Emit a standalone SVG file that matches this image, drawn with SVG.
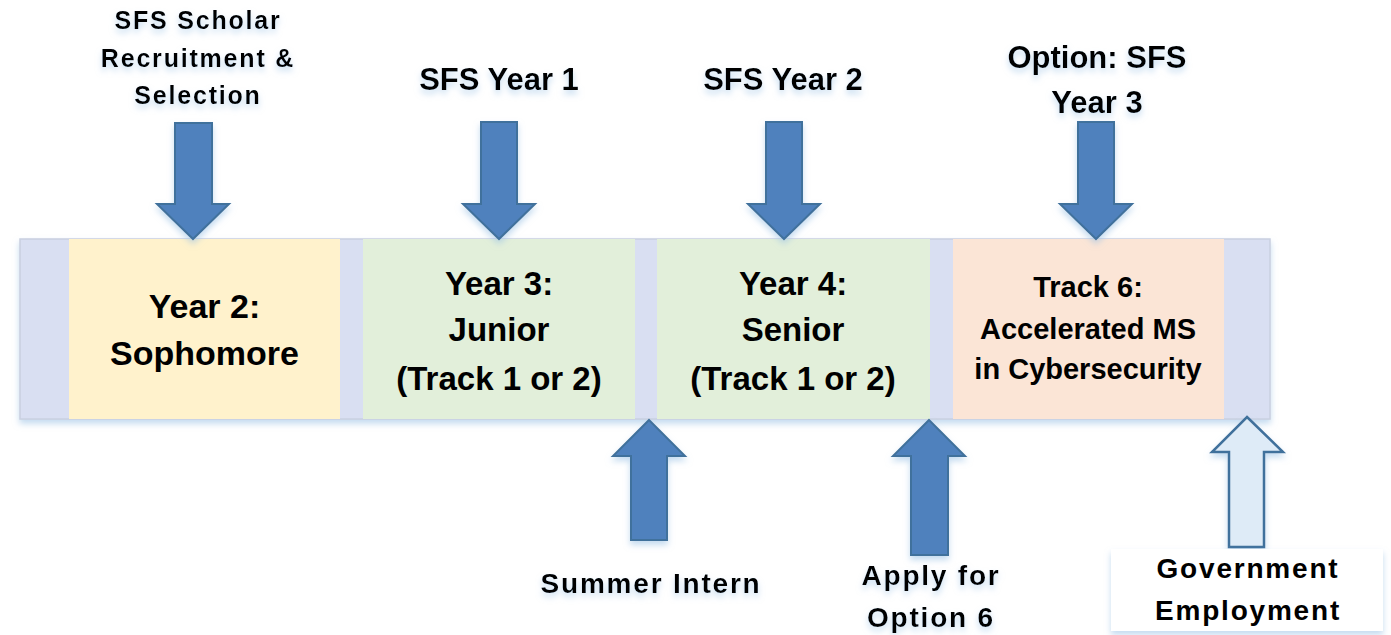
<svg xmlns="http://www.w3.org/2000/svg" width="1391" height="635" viewBox="0 0 1391 635">
<style>
.t{font-family:"Liberation Sans",Arial,sans-serif;font-weight:bold;fill:#000;text-anchor:middle}
.sp{letter-spacing:1.8px}
.arr{fill:#4f81bd;stroke:#41719c;stroke-width:2;stroke-linejoin:miter}
.arr2{fill:#deebf7;stroke:#41719c;stroke-width:2.5}
.gap{fill:#d9dff2}
</style>
<defs>
<filter id="glow" x="-30%" y="-30%" width="160%" height="160%">
<feGaussianBlur in="SourceAlpha" stdDeviation="3" result="b"/>
<feOffset in="b" dy="4" result="o"/>
<feFlood flood-color="#9dc3e6" flood-opacity="0.6"/>
<feComposite in2="o" operator="in" result="s"/>
<feMerge><feMergeNode in="s"/><feMergeNode in="SourceGraphic"/></feMerge>
</filter>
</defs>
<g id="band" filter="url(#glow)">
<rect x="20" y="239" width="1250" height="180" class="gap" stroke="#c9d0e0" stroke-width="1.5"/>
</g>
<g id="node-year2">
<rect x="69" y="239" width="271" height="180" fill="#fff2cc"/>
<text class="t" font-size="34" x="204.5" y="318">Year 2:</text>
<text class="t" font-size="34" x="204.5" y="365">Sophomore</text>
</g>
<g id="node-year3">
<rect x="363" y="239" width="272" height="180" fill="#e2efda"/>
<text class="t" font-size="33" x="499" y="295">Year 3:</text>
<text class="t" font-size="33" x="499" y="341">Junior</text>
<text class="t" font-size="33" x="499" y="390">(Track 1 or 2)</text>
</g>
<g id="node-year4">
<rect x="657" y="239" width="273" height="180" fill="#e2efda"/>
<text class="t" font-size="33" x="793" y="295">Year 4:</text>
<text class="t" font-size="33" x="793" y="341">Senior</text>
<text class="t" font-size="33" x="793" y="390">(Track 1 or 2)</text>
</g>
<g id="node-track6">
<rect x="953" y="239" width="271" height="180" fill="#fbe5d6"/>
<text class="t" font-size="29" x="1088" y="297">Track 6:</text>
<text class="t" font-size="29" x="1088" y="339">Accelerated MS</text>
<text class="t" font-size="29" x="1088" y="379">in Cybersecurity</text>
</g>
<g id="connectors">
<polygon filter="url(#glow)" class="arr" points="175,123 212,123 212,204 229,204 193,239 157,204 175,204"/>
<polygon filter="url(#glow)" class="arr" points="481,122 517,122 517,204 535,204 499,239 463,204 481,204"/>
<polygon filter="url(#glow)" class="arr" points="766,122 802,122 802,204 820,204 784,239 748,204 766,204"/>
<polygon filter="url(#glow)" class="arr" points="1078,122 1114,122 1114,204 1132,204 1096,239 1060,204 1078,204"/>
<polygon filter="url(#glow)" class="arr" points="649,420 685,456 667,456 667,540 631,540 631,456 613,456"/>
<polygon filter="url(#glow)" class="arr" points="929,420 965,456 948,456 948,555 911,555 911,456 893,456"/>
<polygon filter="url(#glow)" class="arr2" points="1247,417 1283,452 1264,452 1264,547 1229,547 1229,452 1212,452"/>
</g>
<g id="label-recruit" filter="url(#glow)">
<text class="t" font-size="25" x="198" y="29" style="letter-spacing:1.8px">SFS Scholar</text>
<text class="t" font-size="25" x="198" y="67" style="letter-spacing:1.8px">Recruitment &amp;</text>
<text class="t" font-size="25" x="198" y="104" style="letter-spacing:1.8px">Selection</text>
</g>
<g id="label-y1" filter="url(#glow)">
<text class="t" font-size="31" x="499" y="90">SFS Year 1</text>
</g>
<g id="label-y2" filter="url(#glow)">
<text class="t" font-size="31" x="783" y="90">SFS Year 2</text>
</g>
<g id="label-y3" filter="url(#glow)">
<text class="t" font-size="31" x="1097" y="68">Option: SFS</text>
<text class="t" font-size="31" x="1097" y="113">Year 3</text>
</g>
<g id="label-intern" filter="url(#glow)">
<text class="t sp" font-size="28" x="651" y="593">Summer Intern</text>
</g>
<g id="label-apply" filter="url(#glow)">
<text class="t sp" font-size="28" x="931" y="585">Apply for</text>
<text class="t sp" font-size="28" x="931" y="627">Option 6</text>
</g>
<g id="label-gov">
<rect x="1111" y="549" width="272" height="82" fill="#fff" filter="url(#glow)"/>
<text class="t sp" font-size="28" x="1248" y="578">Government</text>
<text class="t sp" font-size="28" x="1248" y="620">Employment</text>
</g>
</svg>
